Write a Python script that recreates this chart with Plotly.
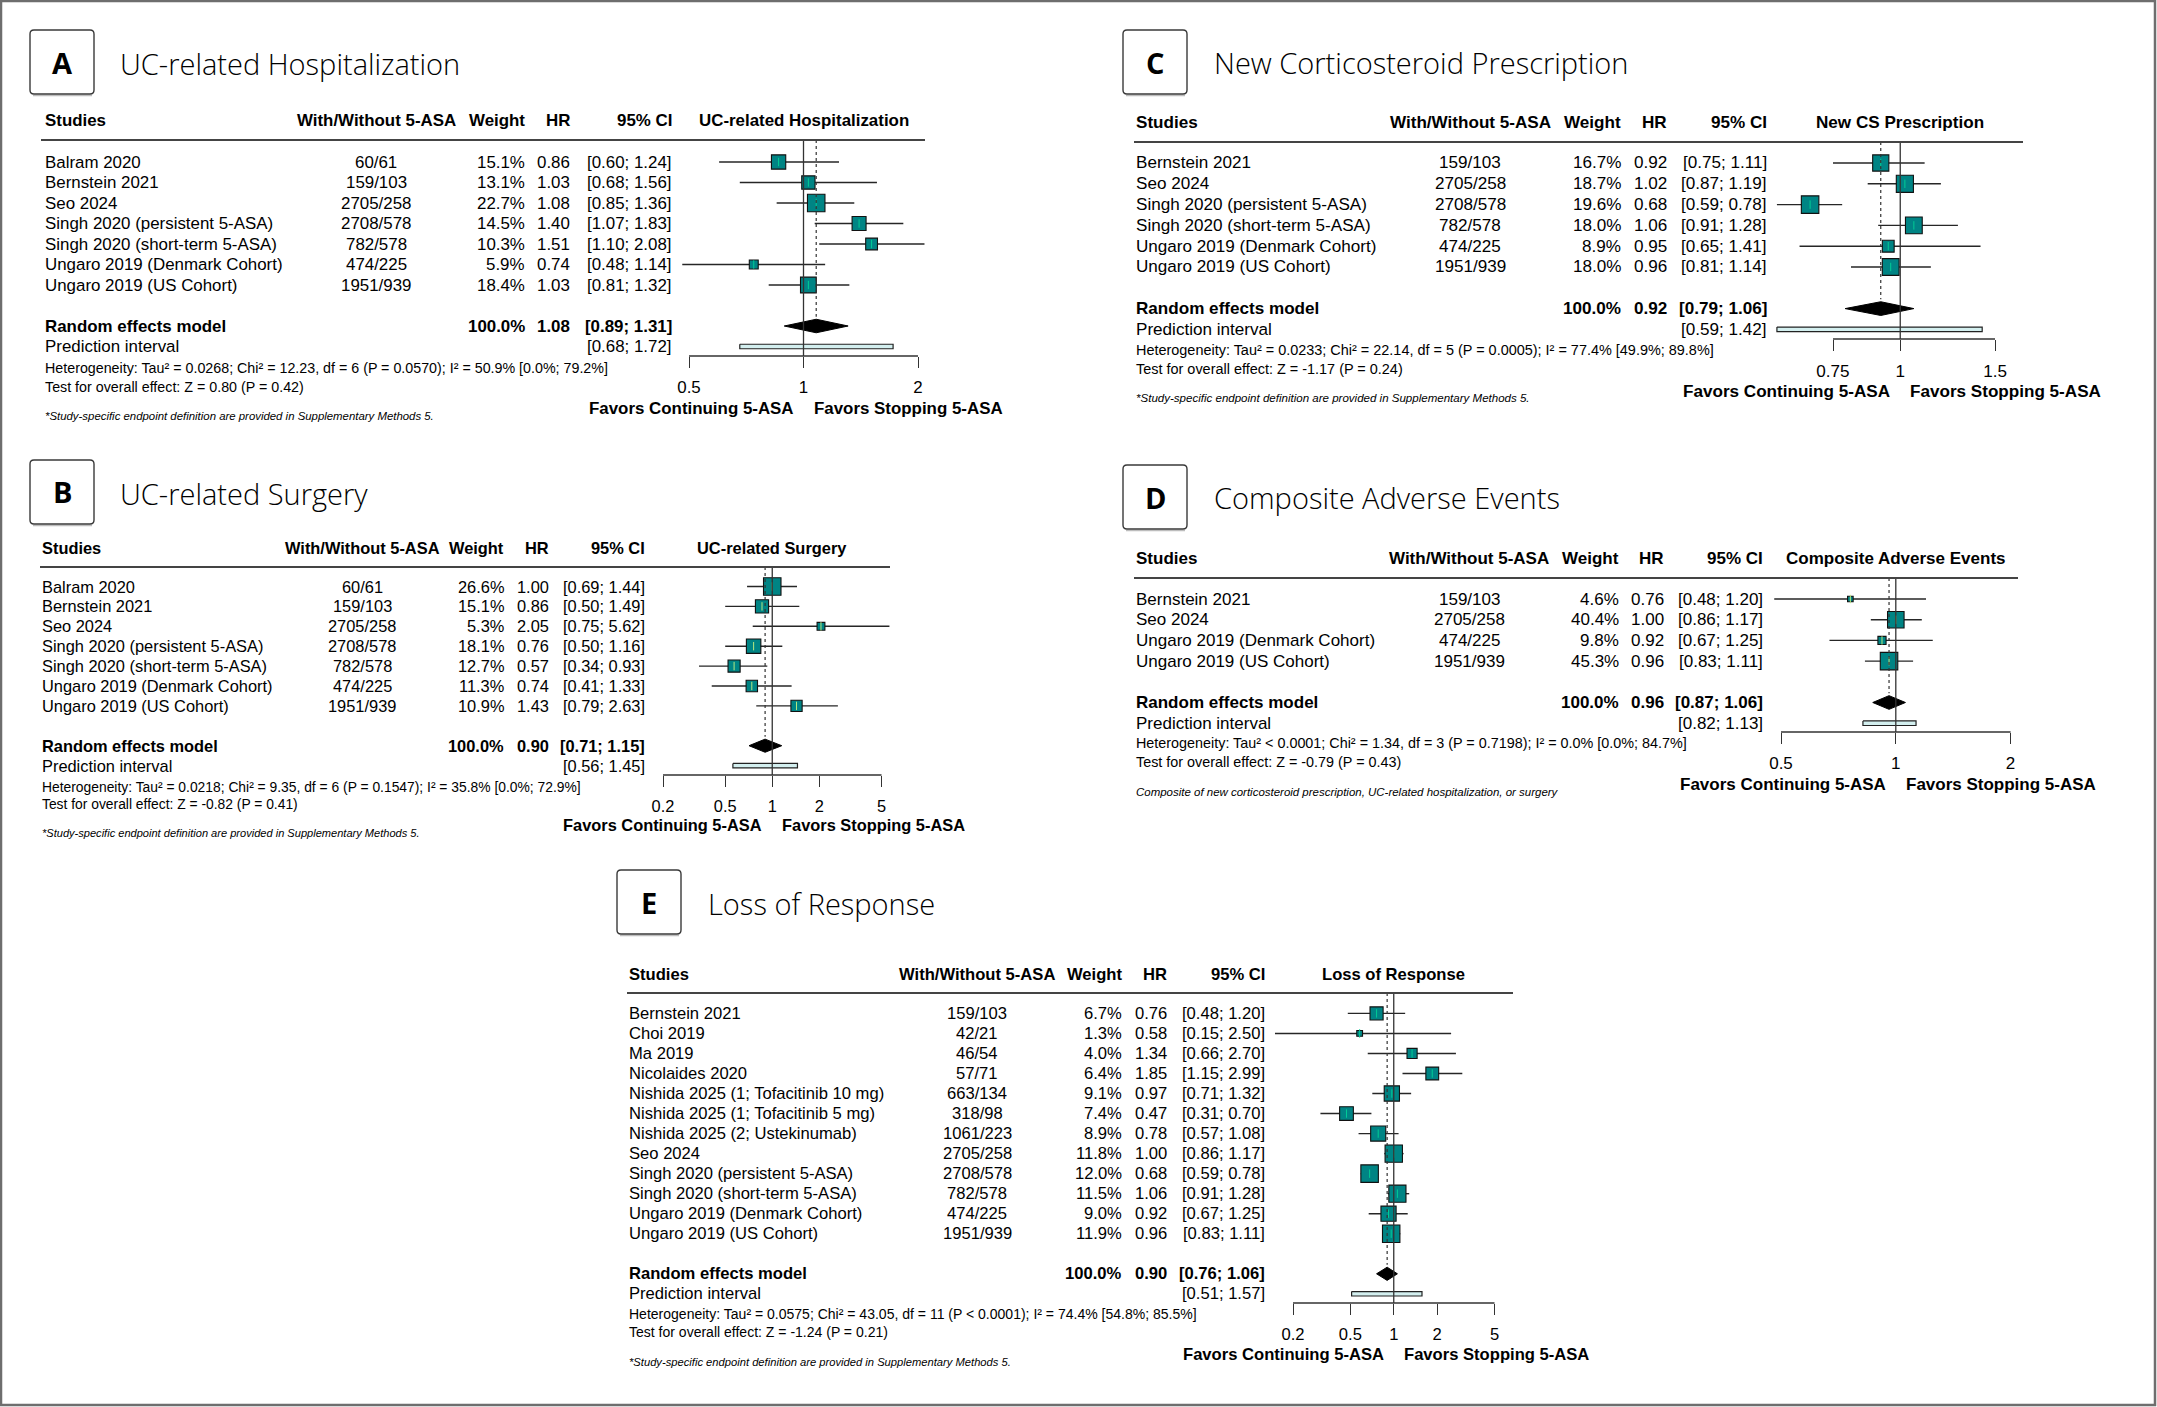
import math
import plotly.graph_objects as go

W, H = 2157, 1407
TEAL = "#008484"
FONT = "Liberation Sans"
TITLE_FONT = "Open Sans"

# ---------------- Panel A: UC-related Hospitalization ----------------
A_title = "UC-related Hospitalization"
A_plot_header = "UC-related Hospitalization"
A_studies = ["Balram 2020", "Bernstein 2021", "Seo 2024", "Singh 2020 (persistent 5-ASA)",
             "Singh 2020 (short-term 5-ASA)", "Ungaro 2019 (Denmark Cohort)", "Ungaro 2019 (US Cohort)"]
A_counts = ["60/61", "159/103", "2705/258", "2708/578", "782/578", "474/225", "1951/939"]
A_weight = [15.1, 13.1, 22.7, 14.5, 10.3, 5.9, 18.4]
A_hr = [0.86, 1.03, 1.08, 1.40, 1.51, 0.74, 1.03]
A_lo = [0.60, 0.68, 0.85, 1.07, 1.10, 0.48, 0.81]
A_hi = [1.24, 1.56, 1.36, 1.83, 2.08, 1.14, 1.32]
A_re = [1.08, 0.89, 1.31]
A_pi = [0.68, 1.72]
A_het = "Heterogeneity: Tau² = 0.0268; Chi² = 12.23, df = 6 (P = 0.0570); I² = 50.9% [0.0%; 79.2%]"
A_test = "Test for overall effect: Z = 0.80 (P = 0.42)"
A_note = "*Study-specific endpoint definition are provided in Supplementary Methods 5."
A_ticks = [0.5, 1, 2]
A_ticktext = ["0.5", "1", "2"]

# ---------------- Panel B: UC-related Surgery ----------------
B_title = "UC-related Surgery"
B_plot_header = "UC-related Surgery"
B_studies = ["Balram 2020", "Bernstein 2021", "Seo 2024", "Singh 2020 (persistent 5-ASA)",
             "Singh 2020 (short-term 5-ASA)", "Ungaro 2019 (Denmark Cohort)", "Ungaro 2019 (US Cohort)"]
B_counts = ["60/61", "159/103", "2705/258", "2708/578", "782/578", "474/225", "1951/939"]
B_weight = [26.6, 15.1, 5.3, 18.1, 12.7, 11.3, 10.9]
B_hr = [1.00, 0.86, 2.05, 0.76, 0.57, 0.74, 1.43]
B_lo = [0.69, 0.50, 0.75, 0.50, 0.34, 0.41, 0.79]
B_hi = [1.44, 1.49, 5.62, 1.16, 0.93, 1.33, 2.63]
B_re = [0.90, 0.71, 1.15]
B_pi = [0.56, 1.45]
B_het = "Heterogeneity: Tau² = 0.0218; Chi² = 9.35, df = 6 (P = 0.1547); I² = 35.8% [0.0%; 72.9%]"
B_test = "Test for overall effect: Z = -0.82 (P = 0.41)"
B_note = "*Study-specific endpoint definition are provided in Supplementary Methods 5."
B_ticks = [0.2, 0.5, 1, 2, 5]
B_ticktext = ["0.2", "0.5", "1", "2", "5"]

# ---------------- Panel C: New Corticosteroid Prescription ----------------
C_title = "New Corticosteroid Prescription"
C_plot_header = "New CS Prescription"
C_studies = ["Bernstein 2021", "Seo 2024", "Singh 2020 (persistent 5-ASA)", "Singh 2020 (short-term 5-ASA)",
             "Ungaro 2019 (Denmark Cohort)", "Ungaro 2019 (US Cohort)"]
C_counts = ["159/103", "2705/258", "2708/578", "782/578", "474/225", "1951/939"]
C_weight = [16.7, 18.7, 19.6, 18.0, 8.9, 18.0]
C_hr = [0.92, 1.02, 0.68, 1.06, 0.95, 0.96]
C_lo = [0.75, 0.87, 0.59, 0.91, 0.65, 0.81]
C_hi = [1.11, 1.19, 0.78, 1.28, 1.41, 1.14]
C_re = [0.92, 0.79, 1.06]
C_pi = [0.59, 1.42]
C_het = "Heterogeneity: Tau² = 0.0233; Chi² = 22.14, df = 5 (P = 0.0005); I² = 77.4% [49.9%; 89.8%]"
C_test = "Test for overall effect: Z = -1.17 (P = 0.24)"
C_note = "*Study-specific endpoint definition are provided in Supplementary Methods 5."
C_ticks = [0.75, 1, 1.5]
C_ticktext = ["0.75", "1", "1.5"]

# ---------------- Panel D: Composite Adverse Events ----------------
D_title = "Composite Adverse Events"
D_plot_header = "Composite Adverse Events"
D_studies = ["Bernstein 2021", "Seo 2024", "Ungaro 2019 (Denmark Cohort)", "Ungaro 2019 (US Cohort)"]
D_counts = ["159/103", "2705/258", "474/225", "1951/939"]
D_weight = [4.6, 40.4, 9.8, 45.3]
D_hr = [0.76, 1.00, 0.92, 0.96]
D_lo = [0.48, 0.86, 0.67, 0.83]
D_hi = [1.20, 1.17, 1.25, 1.11]
D_re = [0.96, 0.87, 1.06]
D_pi = [0.82, 1.13]
D_het = "Heterogeneity: Tau² < 0.0001; Chi² = 1.34, df = 3 (P = 0.7198); I² = 0.0% [0.0%; 84.7%]"
D_test = "Test for overall effect: Z = -0.79 (P = 0.43)"
D_note = "Composite of new corticosteroid prescription, UC-related hospitalization, or surgery"
D_ticks = [0.5, 1, 2]
D_ticktext = ["0.5", "1", "2"]

# ---------------- Panel E: Loss of Response ----------------
E_title = "Loss of Response"
E_plot_header = "Loss of Response"
E_studies = ["Bernstein 2021", "Choi 2019", "Ma 2019", "Nicolaides 2020", "Nishida 2025 (1; Tofacitinib 10 mg)",
             "Nishida 2025 (1; Tofacitinib 5 mg)", "Nishida 2025 (2; Ustekinumab)", "Seo 2024",
             "Singh 2020 (persistent 5-ASA)", "Singh 2020 (short-term 5-ASA)", "Ungaro 2019 (Denmark Cohort)",
             "Ungaro 2019 (US Cohort)"]
E_counts = ["159/103", "42/21", "46/54", "57/71", "663/134", "318/98", "1061/223", "2705/258",
            "2708/578", "782/578", "474/225", "1951/939"]
E_weight = [6.7, 1.3, 4.0, 6.4, 9.1, 7.4, 8.9, 11.8, 12.0, 11.5, 9.0, 11.9]
E_hr = [0.76, 0.58, 1.34, 1.85, 0.97, 0.47, 0.78, 1.00, 0.68, 1.06, 0.92, 0.96]
E_lo = [0.48, 0.15, 0.66, 1.15, 0.71, 0.31, 0.57, 0.86, 0.59, 0.91, 0.67, 0.83]
E_hi = [1.20, 2.50, 2.70, 2.99, 1.32, 0.70, 1.08, 1.17, 0.78, 1.28, 1.25, 1.11]
E_re = [0.90, 0.76, 1.06]
E_pi = [0.51, 1.57]
E_het = "Heterogeneity: Tau² = 0.0575; Chi² = 43.05, df = 11 (P < 0.0001); I² = 74.4% [54.8%; 85.5%]"
E_test = "Test for overall effect: Z = -1.24 (P = 0.21)"
E_note = "*Study-specific endpoint definition are provided in Supplementary Methods 5."
E_ticks = [0.2, 0.5, 1, 2, 5]
E_ticktext = ["0.2", "0.5", "1", "2", "5"]

HEADERS = ["Studies", "With/Without 5-ASA", "Weight", "HR", "95% CI"]
RE_LABEL = "Random effects model"
PI_LABEL = "Prediction interval"
FAV_LEFT = "Favors Continuing 5-ASA"
FAV_RIGHT = "Favors Stopping 5-ASA"

# ---------------- layout positions (pixels) ----------------
POS = {
    "A": dict(box=(30, 30, 94, 94), title=(118, 63), hdr=120, line=140, line_x=(41, 925),
              cols=(43, 376, 527, 572, 674), row0=162, dy=20.5, axis=356, tpx=(689, 918),
              het=368, test=387, note=416, fav=408, fs=16.9),
    "B": dict(box=(30, 460, 94, 524), title=(118, 493), hdr=548, line=567, line_x=(40, 890),
              cols=(40, 362, 506, 551, 647), row0=586.5, dy=19.9, axis=775, tpx=(663, 881.5),
              het=787, test=804, note=833, fav=825, fs=16.4),
    "C": dict(box=(1123, 30, 1187, 94), title=(1212, 62), hdr=122, line=142, line_x=(1134, 2023),
              cols=(1134, 1470, 1623, 1669, 1769), row0=163, dy=20.8, axis=339, tpx=(1833, 1995),
              het=350, test=369, note=398, fav=391, fs=17.1),
    "D": dict(box=(1123, 465, 1187, 529), title=(1212, 497), hdr=558, line=578, line_x=(1134, 2018),
              cols=(1134, 1469, 1620.5, 1666, 1765), row0=599, dy=20.7, axis=732, tpx=(1781, 2010.6),
              het=743, test=762, note=792, fav=784, fs=17.0),
    "E": dict(box=(617, 870, 681, 934), title=(706, 903), hdr=974, line=993, line_x=(627, 1513),
              cols=(627, 977, 1124, 1169, 1267), row0=1013.4, dy=20.03, axis=1303, tpx=(1293, 1494.5),
              het=1314, test=1332, note=1361.5, fav=1354, fs=16.6),
}

PANELS = [
    ("A", A_title, A_plot_header, A_studies, A_counts, A_weight, A_hr, A_lo, A_hi, A_re, A_pi, A_het, A_test, A_note, A_ticks, A_ticktext),
    ("B", B_title, B_plot_header, B_studies, B_counts, B_weight, B_hr, B_lo, B_hi, B_re, B_pi, B_het, B_test, B_note, B_ticks, B_ticktext),
    ("C", C_title, C_plot_header, C_studies, C_counts, C_weight, C_hr, C_lo, C_hi, C_re, C_pi, C_het, C_test, C_note, C_ticks, C_ticktext),
    ("D", D_title, D_plot_header, D_studies, D_counts, D_weight, D_hr, D_lo, D_hi, D_re, D_pi, D_het, D_test, D_note, D_ticks, D_ticktext),
    ("E", E_title, E_plot_header, E_studies, E_counts, E_weight, E_hr, E_lo, E_hi, E_re, E_pi, E_het, E_test, E_note, E_ticks, E_ticktext),
]


def px(x):
    return x / W


def py(y):
    return 1 - y / H


fig = go.Figure()
annotations = []
shapes = []
layout_axes = {}

for i, (key, title, phdr, studies, counts, weight, hr, lo, hi, re, pi, het, test, note, ticks, ticktext) in enumerate(PANELS):
    p = POS[key]
    n = len(studies)
    ax = "" if i == 0 else str(i + 1)
    xref, yref = "x" + ax, "y" + ax
    fs = p["fs"]
    sfs = fs * 0.845
    nfs = fs * 0.675

    # --- axes: log x, row-index y
    t0, t1 = ticks[0], ticks[-1]
    ppd = (p["tpx"][1] - p["tpx"][0]) / (math.log10(t1) - math.log10(t0))
    xa = p["cols"][4] + 4
    xb = p["line_x"][1] + 6
    lg = lambda X: math.log10(t0) + (X - p["tpx"][0]) / ppd
    layout_axes["xaxis" + ax] = dict(
        type="log", domain=[px(xa), px(xb)], range=[lg(xa), lg(xb)], anchor=yref,
        tickvals=ticks, ticktext=ticktext, ticks="outside", ticklen=11, tickwidth=1.3,
        tickcolor="#333333", showgrid=False, zeroline=False, showline=False,
        tickfont=dict(family=FONT, size=fs, color="black"), ticklabelstandoff=5,
    )
    r_bot = (p["axis"] - p["row0"]) / p["dy"]
    r_top = (p["line"] - p["row0"]) / p["dy"]
    layout_axes["yaxis" + ax] = dict(
        domain=[py(p["axis"]), py(p["line"])], range=[r_bot, r_top], anchor=xref,
        visible=False, showgrid=False, zeroline=False,
    )

    rows = list(range(n))
    k_re = n + 1
    k_pi = n + 2

    # reference line at 1 and dashed line at pooled estimate
    shapes.append(dict(type="line", xref=xref, yref=yref + " domain", x0=1, x1=1, y0=0, y1=1,
                       line=dict(color="#333333", width=1.3)))
    shapes.append(dict(type="line", xref=xref, yref=yref, x0=re[0], x1=re[0], y0=r_top, y1=k_re - 0.45,
                       line=dict(color="#333333", width=1.2, dash="3px,3px")))
    # x axis line between first and last tick
    shapes.append(dict(type="line", xref=xref, yref=yref + " domain", x0=t0, x1=t1, y0=0, y1=0,
                       line=dict(color="#333333", width=1.3)))

    # CI lines
    cx, cy = [], []
    for k in rows:
        cx += [lo[k], hi[k], None]
        cy += [k, k, None]
    fig.add_trace(go.Scatter(x=cx, y=cy, mode="lines", line=dict(color="#262626", width=1.4),
                             xaxis=xref, yaxis=yref, hoverinfo="skip", showlegend=False))
    # squares
    wmax = max(weight)
    sizes = [17.5 * math.sqrt(w / wmax) for w in weight]
    fig.add_trace(go.Scatter(x=hr, y=rows, mode="markers",
                             marker=dict(symbol="square", size=sizes, color=TEAL, opacity=1,
                                         line=dict(color="#111111", width=1.1)),
                             xaxis=xref, yaxis=yref, hoverinfo="skip", showlegend=False))
    fig.add_trace(go.Scatter(x=hr, y=rows, mode="markers",
                             marker=dict(symbol="line-ns-open", size=6, line=dict(color="#111111", width=1)),
                             xaxis=xref, yaxis=yref, hoverinfo="skip", showlegend=False))
    # diamond
    h = 0.33
    fig.add_trace(go.Scatter(x=[re[1], re[0], re[2], re[0], re[1]], y=[k_re, k_re - h, k_re, k_re + h, k_re],
                             mode="lines", fill="toself", fillcolor="black", line=dict(color="black", width=1),
                             xaxis=xref, yaxis=yref, hoverinfo="skip", showlegend=False))
    # prediction interval
    hp = 0.11
    fig.add_trace(go.Scatter(x=[pi[0], pi[1], pi[1], pi[0], pi[0]],
                             y=[k_pi - hp, k_pi - hp, k_pi + hp, k_pi + hp, k_pi - hp],
                             mode="lines", fill="toself", fillcolor="#d3efef", line=dict(color="#222222", width=1.2),
                             xaxis=xref, yaxis=yref, hoverinfo="skip", showlegend=False))

    # ---- panel label box + title
    bx0, by0, bx1, by1 = p["box"]
    rr = 4
    path = (f"M {px(bx0 + rr)},{py(by0)} L {px(bx1 - rr)},{py(by0)} Q {px(bx1)},{py(by0)} {px(bx1)},{py(by0 + rr)} "
            f"L {px(bx1)},{py(by1 - rr)} Q {px(bx1)},{py(by1)} {px(bx1 - rr)},{py(by1)} "
            f"L {px(bx0 + rr)},{py(by1)} Q {px(bx0)},{py(by1)} {px(bx0)},{py(by1 - rr)} "
            f"L {px(bx0)},{py(by0 + rr)} Q {px(bx0)},{py(by0)} {px(bx0 + rr)},{py(by0)} Z")
    shapes.append(dict(type="line", xref="paper", yref="paper", x0=px(bx0 + 3), x1=px(bx1 - 2),
                       y0=py(by1 + 1.5), y1=py(by1 + 1.5), line=dict(color="#bdbdbd", width=1.5)))
    shapes.append(dict(type="path", xref="paper", yref="paper", path=path, fillcolor="white",
                       line=dict(color="#3a3a3a", width=1.4)))
    annotations.append(dict(x=px((bx0 + bx1) / 2), y=py((by0 + by1) / 2), xref="paper", yref="paper",
                            text=key, showarrow=False, xanchor="center", yanchor="middle",
                            font=dict(family=TITLE_FONT, size=29, color="black", weight="bold")))
    annotations.append(dict(x=px(p["title"][0]), y=py(p["title"][1]), xref="paper", yref="paper",
                            text=title, showarrow=False, xanchor="left", yanchor="middle",
                            font=dict(family=TITLE_FONT, size=29, color="black", weight=300)))

    # ---- header row
    c = p["cols"]
    anchors = ["left", "center", "right", "right", "right"]
    for txt, cxp, anc in zip(HEADERS, c, anchors):
        annotations.append(dict(x=px(cxp), y=py(p["hdr"]), xref="paper", yref="paper", text=txt,
                                showarrow=False, xanchor=anc, yanchor="middle",
                                font=dict(family=FONT, size=fs, color="black", weight="bold")))
    annotations.append(dict(x=0, y=py(p["hdr"]), xref=xref, yref="paper", text=phdr,
                            showarrow=False, xanchor="center", yanchor="middle",
                            font=dict(family=FONT, size=fs, color="black", weight="bold")))
    shapes.append(dict(type="line", xref="paper", yref="paper", x0=px(p["line_x"][0]), x1=px(p["line_x"][1]),
                       y0=py(p["line"]), y1=py(p["line"]), line=dict(color="#444444", width=2)))

    # ---- study rows
    for k in rows:
        vals = [studies[k], counts[k], f"{weight[k]:.1f}%", f"{hr[k]:.2f}", f"[{lo[k]:.2f}; {hi[k]:.2f}]"]
        for txt, cxp, anc in zip(vals, c, anchors):
            annotations.append(dict(x=px(cxp), y=k, xref="paper", yref=yref, text=txt, showarrow=False,
                                    xanchor=anc, yanchor="middle",
                                    font=dict(family=FONT, size=fs, color="black")))
    # pooled rows
    re_vals = [(RE_LABEL, 0, "left"), ("100.0%", 2, "right"), (f"{re[0]:.2f}", 3, "right"),
               (f"[{re[1]:.2f}; {re[2]:.2f}]", 4, "right")]
    for txt, ci, anc in re_vals:
        annotations.append(dict(x=px(c[ci]), y=k_re, xref="paper", yref=yref, text=txt, showarrow=False,
                                xanchor=anc, yanchor="middle",
                                font=dict(family=FONT, size=fs, color="black", weight="bold")))
    for txt, ci, anc in [(PI_LABEL, 0, "left"), (f"[{pi[0]:.2f}; {pi[1]:.2f}]", 4, "right")]:
        annotations.append(dict(x=px(c[ci]), y=k_pi, xref="paper", yref=yref, text=txt, showarrow=False,
                                xanchor=anc, yanchor="middle", font=dict(family=FONT, size=fs, color="black")))

    # ---- statistics text and footnote
    annotations.append(dict(x=px(c[0]), y=py(p["het"]), xref="paper", yref="paper", text=het, showarrow=False,
                            xanchor="left", yanchor="middle", font=dict(family=FONT, size=sfs, color="black")))
    annotations.append(dict(x=px(c[0]), y=py(p["test"]), xref="paper", yref="paper", text=test, showarrow=False,
                            xanchor="left", yanchor="middle", font=dict(family=FONT, size=sfs, color="black")))
    annotations.append(dict(x=px(c[0]), y=py(p["note"]), xref="paper", yref="paper", text=note,
                            showarrow=False, xanchor="left", yanchor="middle",
                            font=dict(family=FONT, size=nfs, color="black", style="italic")))
    # ---- favours labels
    annotations.append(dict(x=0, y=py(p["fav"]), xref=xref, yref="paper", text=FAV_LEFT, showarrow=False,
                            xanchor="right", yanchor="middle", xshift=-8,
                            font=dict(family=FONT, size=fs, color="black", weight="bold")))
    annotations.append(dict(x=0, y=py(p["fav"]), xref=xref, yref="paper", text=FAV_RIGHT, showarrow=False,
                            xanchor="left", yanchor="middle", xshift=8,
                            font=dict(family=FONT, size=fs, color="black", weight="bold")))

# outer frame
shapes.append(dict(type="rect", xref="paper", yref="paper", x0=px(1), x1=px(W - 2), y0=py(H - 2), y1=py(1),
                   line=dict(color="#6e6e6e", width=2.5)))

fig.update_layout(
    width=W, height=H, margin=dict(l=0, r=0, t=0, b=0),
    paper_bgcolor="white", plot_bgcolor="rgba(0,0,0,0)",
    showlegend=False, annotations=annotations, shapes=shapes,
    font=dict(family=FONT, color="black"),
    **layout_axes,
)

fig.write_html("out.html", config={"displayModeBar": False},
               post_script="document.body.style.margin='0';document.body.style.overflow='hidden';")
